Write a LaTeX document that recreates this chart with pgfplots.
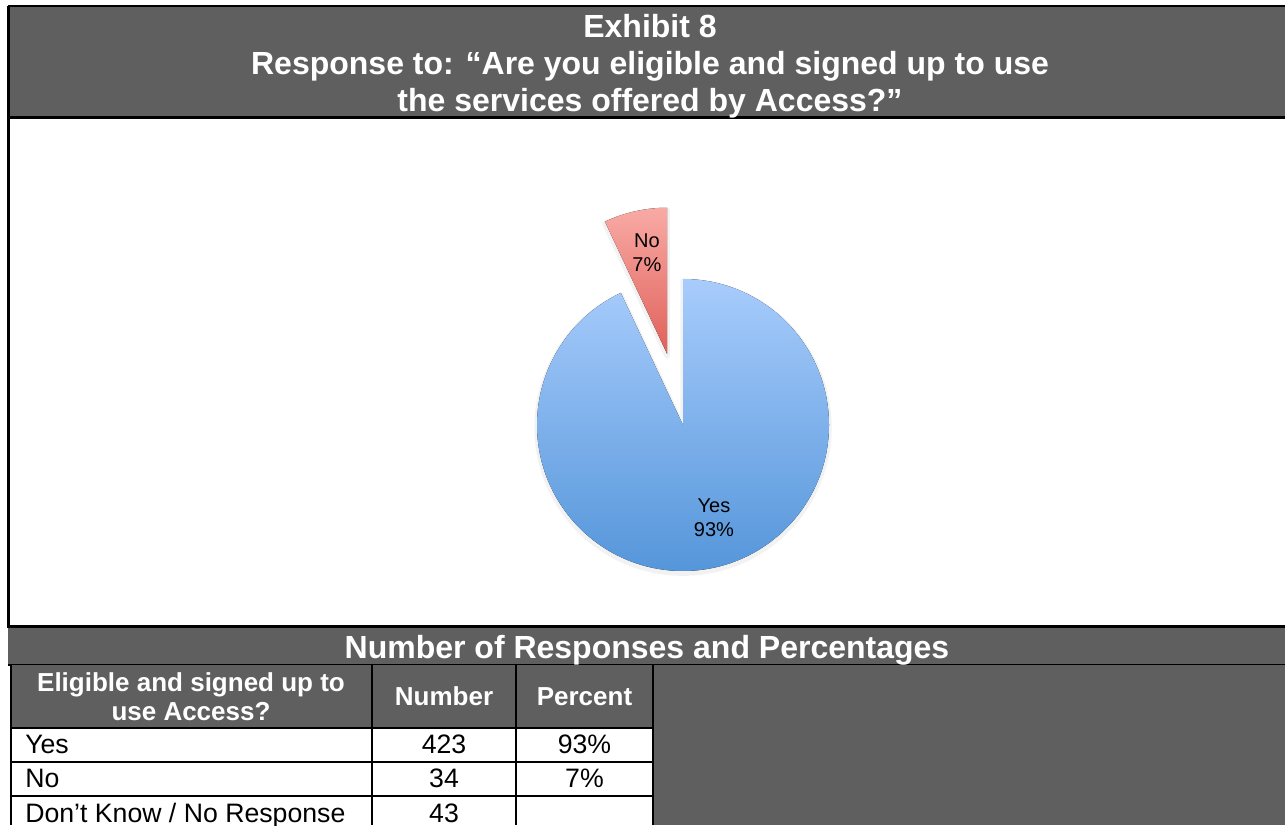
\documentclass[border=0pt]{standalone}
\usepackage{pgfplots}
\pgfplotsset{compat=1.18}
\usepackage{pgfplotstable}
\usepackage{fontspec}
\setmainfont{Liberation Sans}
\definecolor{hdr}{HTML}{5F5F5F}
\definecolor{blueT}{HTML}{A8CCFC}
\definecolor{blueB}{HTML}{5596DA}
\definecolor{redT}{HTML}{F9AAA5}
\definecolor{redB}{HTML}{E06059}
\pgfplotstableread{
cat number percent
Yes 423 93
No 34 7
}\piedata
\begin{document}
\begin{tikzpicture}[x=0.75pt,y=0.75pt]
\path[use as bounding box] (0,0) rectangle (1285,825);
% ---------- title block ----------
\fill[hdr] (8,819) rectangle (1285,706);
\draw[line width=1.5pt] (8,818.5) -- (1285,818.5);
\draw[line width=2.25pt] (8,707) -- (1285,707);
\draw[line width=2pt] (8.5,819) -- (8.5,197);
\node[text=white, font=\fontsize{24}{27.75}\selectfont\bfseries, align=center] at (650,758.5)
  {Exhibit 8\\Response to: “Are you eligible and signed up to use\\the services offered by Access?”};
% ---------- table section ----------
\fill[hdr] (8,197) rectangle (1285,160);
\draw[line width=2.25pt] (8,198) -- (1285,198);
\draw[line width=1.5pt] (8,160) -- (1285,160);
\node[text=white, font=\fontsize{24}{27.75}\selectfont\bfseries] at (647,175) {Number of Responses and Percentages};
% header cells
\fill[hdr] (10,160) rectangle (653,97);
% right block
\fill[hdr] (653,160) rectangle (1285,0);
% grid lines
\draw[line width=1.5pt] (10,97) -- (653,97);
\draw[line width=1.5pt] (10,63) -- (653,63);
\draw[line width=1.5pt] (10,29) -- (653,29);
\draw[line width=1.5pt] (10.5,160) -- (10.5,0);
\draw[line width=1.5pt] (372,160) -- (372,0);
\draw[line width=1.5pt] (516,160) -- (516,0);
\draw[line width=1.5pt] (653,160) -- (653,0);
% header texts
\node[text=white, font=\fontsize{19.5}{21.5}\selectfont\bfseries, align=center] at (191,128.5) {Eligible and signed up to\\use Access?};
\node[text=white, font=\fontsize{19.5}{21.5}\selectfont\bfseries] at (444,128.5) {Number};
\node[text=white, font=\fontsize{19.5}{21.5}\selectfont\bfseries] at (584.5,128.5) {Percent};
% body
\begin{scope}[font=\fontsize{20}{23}\selectfont]
\node[anchor=base west, inner sep=0pt] at (25,72) {Yes};
\node[anchor=base west, inner sep=0pt] at (25,38) {No};
\node[anchor=base west, inner sep=0pt] at (25,3) {Don’t Know / No Response};
\node[anchor=base, inner sep=0pt] at (444,72) {423};
\node[anchor=base, inner sep=0pt] at (444,38) {34};
\node[anchor=base, inner sep=0pt] at (444,3) {43};
\node[anchor=base, inner sep=0pt] at (584.5,72) {93\%};
\node[anchor=base, inner sep=0pt] at (584.5,38) {7\%};
\end{scope}
% ---------- pie ----------
\pgfplotstablegetelem{0}{percent}\of\piedata \let\pyes\pgfplotsretval
\pgfplotstablegetelem{1}{percent}\of\piedata \let\pno\pgfplotsretval
\pgfmathsetmacro\tot{\pyes+\pno}
\pgfmathsetmacro\angyes{\pyes/\tot*360}
\pgfmathsetmacro\angno{\pno/\tot*360}
\pgfmathsetmacro\endyes{90-\angyes}
\pgfmathsetmacro\endno{90+\angno}
\pgfmathsetmacro\midno{90+\angno/2}
\pgfmathsetmacro\exx{0.5*cos(\midno)}
\pgfmathsetmacro\exy{0.5*sin(\midno)}
\begin{axis}[at={(512.25pt,300pt)}, anchor=origin, hide axis, scale only axis,
  width=262.8pt, height=328.5pt, xmin=-1.2, xmax=1.2, ymin=-1.2, ymax=1.8, clip=false]
% soft shadows
\draw[line width=4pt, black, opacity=0.05, line join=round] (axis cs:0,-0.015) -- ++(90:109.5pt) arc[start angle=90, end angle=\endyes, radius=109.5pt] -- cycle;
\draw[line width=4pt, black, opacity=0.05, line join=round] (axis cs:\exx,\exy-0.015) -- ++(90:109.5pt) arc[start angle=90, end angle=\endno, radius=109.5pt] -- cycle;
% wedges
\fill[top color=blueT, bottom color=blueB] (axis cs:0,0) -- ++(90:109.5pt) arc[start angle=90, end angle=\endyes, radius=109.5pt] -- cycle;
\fill[top color=redT, bottom color=redB] (axis cs:\exx,\exy) -- ++(90:109.5pt) arc[start angle=90, end angle=\endno, radius=109.5pt] -- cycle;
% labels
\node[font=\fontsize{15}{18}\selectfont, align=center] at (axis cs:-0.247,1.178) {No\\7\%};
\node[font=\fontsize{15}{18}\selectfont, align=center] at (axis cs:0.212,-0.637) {Yes\\93\%};
\end{axis}
\end{tikzpicture}
\end{document}
